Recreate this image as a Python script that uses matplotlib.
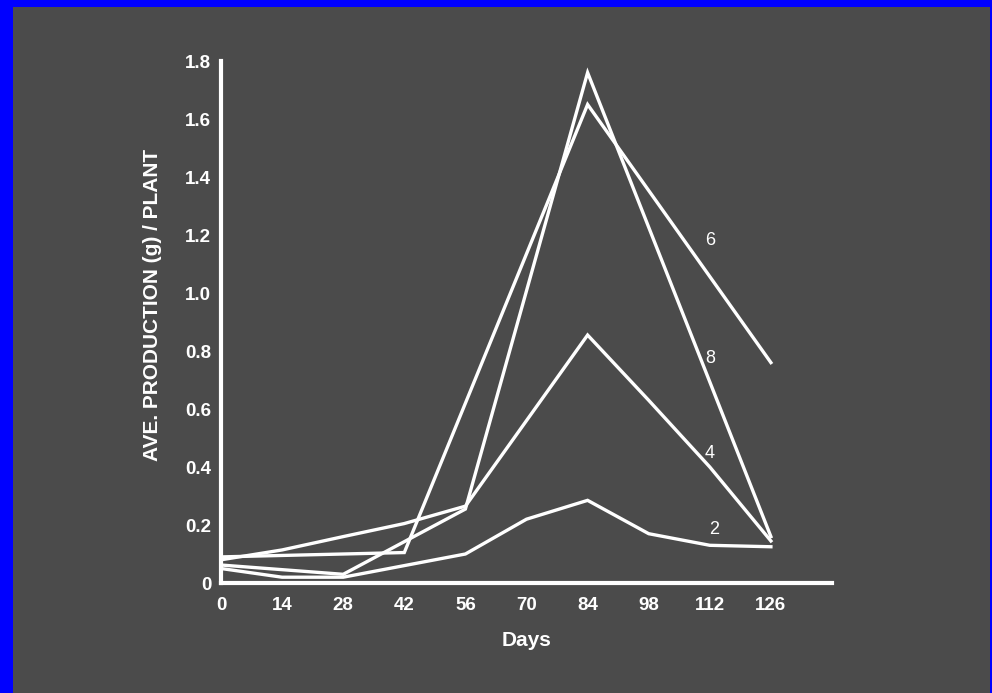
import matplotlib.pyplot as plt
from matplotlib.patches import Rectangle

# days sampled for each curve (only the visible corners)
DAYS_2 = [0, 14, 28, 56, 70, 84, 98, 112, 126]
PROD_2 = [0.05, 0.02, 0.02, 0.10, 0.22, 0.285, 0.17, 0.13, 0.125]

DAYS_4 = [0, 14, 28, 42, 56, 84, 98, 112, 126]
PROD_4 = [0.08, 0.114, 0.16, 0.205, 0.265, 0.855, 0.63, 0.40, 0.145]

DAYS_6 = [0, 14, 28, 42, 84, 126]
PROD_6 = [0.09, 0.095, 0.10, 0.105, 1.65, 0.76]

DAYS_8 = [0, 28, 56, 84, 126]
PROD_8 = [0.062, 0.03, 0.255, 1.76, 0.16]

SERIES = [("2", DAYS_2, PROD_2), ("4", DAYS_4, PROD_4),
          ("6", DAYS_6, PROD_6), ("8", DAYS_8, PROD_8)]

# where the curve numbers sit (day, value)
LABEL_POS = {"6": (112, 1.18), "8": (112, 0.775), "4": (112, 0.445), "2": (113, 0.185)}

X_TICKS = [0, 14, 28, 42, 56, 70, 84, 98, 112, 126]
Y_TICKS = [0, 0.2, 0.4, 0.6, 0.8, 1.0, 1.2, 1.4, 1.6, 1.8]
Y_TICK_LABELS = ["0", "0.2", "0.4", "0.6", "0.8", "1.0", "1.2", "1.4", "1.6", "1.8"]

BG = "#4b4b4b"
FG = "white"

plt.rcParams["font.family"] = ["Liberation Sans", "DejaVu Sans"]

W, H = 992, 693
fig = plt.figure(figsize=(W / 100, H / 100), dpi=100)
fig.patch.set_facecolor("#0000ff")
fig.patches.append(Rectangle((13 / W, 0), (990 - 13) / W, (H - 7) / H,
                             transform=fig.transFigure, facecolor=BG,
                             edgecolor="none", zorder=-10))

ax = fig.add_axes([221 / W, 110 / H, (832 - 221) / W, (583 - 61) / H])
ax.set_facecolor("none")

for name, days, prod in SERIES:
    ax.plot(days, prod, color=FG, linewidth=2.4, solid_joinstyle="miter",
            clip_on=False)
    lx, ly = LABEL_POS[name]
    ax.text(lx, ly, name, color=FG, fontsize=13, ha="center", va="center")

ax.set_xlim(0, 140)
ax.set_ylim(0, 1.8)
ax.set_xticks(X_TICKS)
ax.set_yticks(Y_TICKS)
ax.set_yticklabels(Y_TICK_LABELS)
ax.tick_params(length=0, colors=FG, labelsize=13.5)
ax.tick_params(axis="x", pad=10)
ax.tick_params(axis="y", pad=7)
for lbl in ax.get_xticklabels() + ax.get_yticklabels():
    lbl.set_fontweight("bold")

for side in ["top", "right"]:
    ax.spines[side].set_visible(False)
for side in ["left", "bottom"]:
    ax.spines[side].set_color(FG)
    ax.spines[side].set_linewidth(3)

ax.set_xlabel("Days", color=FG, fontsize=15, fontweight="bold", labelpad=12)
ax.set_ylabel("AVE. PRODUCTION (g) / PLANT", color=FG, fontsize=15,
              fontweight="bold")
ax.yaxis.set_label_coords(-0.097, 0.533)

fig.savefig("out.png", dpi=100, facecolor=fig.get_facecolor())
